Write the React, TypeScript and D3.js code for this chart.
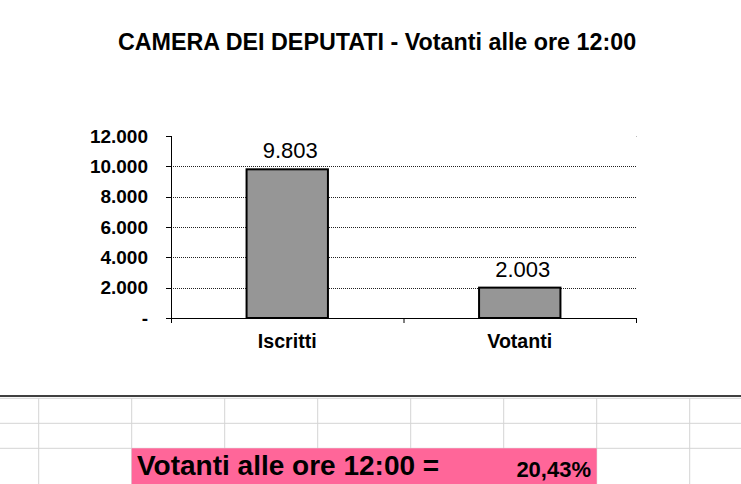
import React from "react";
import * as d3 from "d3";

const categories = ["Iscritti", "Votanti"];
const values = [9803, 2003];
const yTicks = [0, 2000, 4000, 6000, 8000, 10000, 12000];
const title = "CAMERA DEI DEPUTATI - Votanti alle ore 12:00";
const summaryLabel = "Votanti alle ore 12:00 =";
const summaryValue = "20,43%";

const W = 741;
const H = 484;
const FONT = "'Liberation Sans', Arial, Helvetica, sans-serif";

const fmt = (v: number) => (v === 0 ? "-" : d3.format(",")(v).replace(/,/g, "."));

export default function App() {
  const left = 171, right = 636, top = 136, bottom = 318;
  const x = d3.scaleBand<string>().domain(categories).range([left, right]).paddingInner(0).paddingOuter(0);
  const y = d3.scaleLinear().domain([0, 12000]).range([bottom, top]);
  const barW = x.bandwidth() * 0.35;

  const colX = [38.7, 131.7, 224.7, 317.7, 410.7, 503.7, 596.7, 689.7];
  const rowY = [398.3, 423.3, 448.3];

  return (
    <svg width={W} height={H} style={{ position: "absolute", left: 0, top: 0, background: "#fff" }} fontFamily={FONT}>
      <rect x={0} y={0} width={W} height={H} fill="#fff" />
      <text x={377} y={50} textAnchor="middle" fontWeight="bold" fontSize={23.3} fill="#000">{title}</text>

      {/* gridlines */}
      {yTicks.filter((t) => t > 0).map((t) => (
        <line key={t} x1={left} x2={right} y1={Math.round(y(t)) + 0.5} y2={Math.round(y(t)) + 0.5}
          stroke={t === 12000 ? "none" : "#222"} strokeWidth={1} strokeDasharray="1,1" />
      ))}

      {/* bars */}
      {categories.map((c, i) => {
        const cx = (x(c) as number) + x.bandwidth() / 2;
        return (
          <g key={c}>
            <rect x={cx - barW / 2} y={y(values[i])} width={barW} height={bottom - y(values[i])}
              fill="#969696" stroke="#000" strokeWidth={2} />
            <text x={cx + 3} y={y(values[i]) - 11} textAnchor="middle" fontSize={22} fill="#000">{fmt(values[i])}</text>
            <text x={cx} y={348} textAnchor="middle" fontSize={19.6} fontWeight="bold" fill="#000">{c}</text>
          </g>
        );
      })}

      {/* axes */}
      <line x1={left + 0.5} x2={left + 0.5} y1={top} y2={bottom + 5} stroke="#000" />
      <line x1={left} x2={right + 0.5} y1={bottom + 0.5} y2={bottom + 0.5} stroke="#000" />
      {[left, left + x.bandwidth(), right].map((px, i) => (
        <line key={i} x1={px + 0.5} x2={px + 0.5} y1={bottom} y2={bottom + 5} stroke="#000" />
      ))}
      {yTicks.map((t) => (
        <g key={t}>
          <line x1={left - 5} x2={left} y1={Math.round(y(t)) + 0.5} y2={Math.round(y(t)) + 0.5} stroke="#000" />
          <text x={148} y={y(t)} dy="0.35em" textAnchor="end" fontSize={19} fontWeight="bold" fill="#000">{fmt(t)}</text>
        </g>
      ))}
      <rect x={right} y={top} width={1} height={1} fill="#bbb" />

      {/* spreadsheet area */}
      <line x1={0} x2={W} y1={396} y2={396} stroke="#000" strokeWidth={1.5} />
      {rowY.map((ry) => (
        <line key={ry} x1={0} x2={W} y1={ry} y2={ry} stroke="#d4d4d4" strokeWidth={1} />
      ))}
      {colX.map((cx) => (
        <line key={cx} x1={cx} x2={cx} y1={398} y2={H} stroke="#d4d4d4" strokeWidth={1} />
      ))}
      <rect x={131.7} y={448.3} width={465} height={H - 448.3} fill="#FF6699" />
      <text x={137} y={474.5} fontSize={28} fontWeight="bold" fill="#000">{summaryLabel}</text>
      <text x={591} y={476.5} textAnchor="end" fontSize={22} fontWeight="bold" fill="#000">{summaryValue}</text>
    </svg>
  );
}
